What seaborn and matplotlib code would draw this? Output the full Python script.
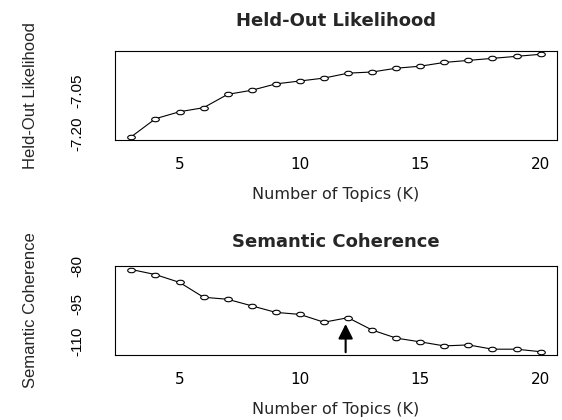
import numpy as np
import matplotlib
matplotlib.use("Agg")
import matplotlib.pyplot as plt
import seaborn as sns
from matplotlib.path import Path
from matplotlib.transforms import Affine2D

# values
topics = [3, 4, 5, 6, 7, 8, 9, 10, 11, 12, 13, 14, 15, 16, 17, 18, 19, 20]
heldout = [-7.209, -7.147, -7.123, -7.109, -7.063, -7.049, -7.027, -7.017, -7.007,
           -6.990, -6.986, -6.973, -6.966, -6.953, -6.946, -6.939, -6.932, -6.925]
semcoh = [-81.4, -83.4, -86.5, -92.4, -93.2, -95.8, -98.4, -99.2, -102.3,
          -100.5, -105.4, -108.6, -110.1, -111.7, -111.3, -113.0, -113.0, -114.0]

heldout_ticks = [-7.20, -7.15, -7.10, -7.05, -7.00, -6.95]
heldout_labels = ["-7.20", "", "", "-7.05", "", ""]
semcoh_ticks = [-110, -105, -100, -95, -90, -85, -80]
semcoh_labels = ["-110", "", "", "-95", "", "", "-80"]
x_ticks = [5, 10, 15, 20]

arrow_k = 11.9
arrow_tip = -101.9

sns.set_style("white")
narrow = ["Liberation Sans", "DejaVu Sans"]
wide = ["DejaVu Sans"]

# stretched circle, like the picture
marker = Path.unit_circle().transformed(Affine2D().scale(1.7, 1.0))

fig = plt.figure(figsize=(5.62, 4.2), dpi=100)
ax1 = fig.add_axes([115 / 562, 1 - 140 / 420, 442 / 562, 89 / 420])
ax2 = fig.add_axes([115 / 562, 1 - 355 / 420, 442 / 562, 89 / 420])


def r_panel(ax, y, title, ylabel, ticks, labels, tpad):
    sns.lineplot(x=topics, y=y, ax=ax, color="black", linewidth=0.8,
                 marker=marker, markersize=5.5, markerfacecolor="white",
                 markeredgecolor="black", markeredgewidth=0.8)
    rng = max(y) - min(y)
    ax.set_ylim(min(y) - 0.04 * rng, max(y) + 0.04 * rng)
    rx = max(topics) - min(topics)
    ax.set_xlim(min(topics) - 0.04 * rx, max(topics) + 0.04 * rx)
    ax.set_xticks(x_ticks)
    ax.set_xticklabels([str(t) for t in x_ticks], family=wide, fontsize=11)
    ax.set_yticks(ticks)
    ax.set_yticklabels(labels, rotation=90, va="center", family=narrow, fontsize=11)
    ax.tick_params(axis="x", direction="out", length=7, width=0.8, pad=5, colors="black")
    ax.tick_params(axis="y", direction="out", length=13, width=0.8, pad=9, colors="black")
    for s in ax.spines.values():
        s.set_color("black")
        s.set_linewidth(0.8)
    ax.set_title(title, family=wide, fontweight="bold", fontsize=13, pad=tpad)
    ax.set_xlabel("Number of Topics (K)", family=wide, fontsize=11.5, labelpad=11)
    ax.set_ylabel(ylabel, family=narrow, fontsize=12, labelpad=23)


r_panel(ax1, heldout, "Held-Out Likelihood", "Held-Out Likelihood", heldout_ticks, heldout_labels, 18)
r_panel(ax2, semcoh, "Semantic Coherence", "Semantic Coherence", semcoh_ticks, semcoh_labels, 14)

ax2.annotate("", xy=(arrow_k, arrow_tip), xytext=(arrow_k, ax2.get_ylim()[0]),
             arrowprops=dict(arrowstyle="-|>", color="black", lw=1.5, mutation_scale=22))

fig.savefig("out.png", dpi=100)
